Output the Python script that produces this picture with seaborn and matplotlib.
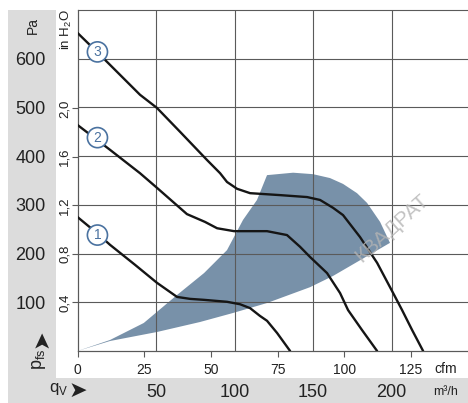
import matplotlib
matplotlib.use("Agg")
import matplotlib.pyplot as plt
import pandas as pd
import seaborn as sns
from matplotlib import font_manager
from matplotlib.patches import Rectangle

# Fan curves: flow in m³/h, static pressure p_fs in Pa.
CURVE1_Q = [0, 12.4, 20.7, 36.6, 50.6, 63.4, 71.7, 80.6, 95.2, 103.5, 109.9, 116.2, 120.7, 127.1, 135.4]
CURVE1_P = [275, 242, 218, 177, 140, 111, 107, 105, 101, 96, 88, 72, 62, 37, 0]

CURVE2_Q = [0, 20.7, 39.8, 50.6, 69.7, 81.2, 88.9, 99.7, 120.7, 133.4, 141.7, 148.1, 158.9, 167.2, 172.3, 181.2, 190.8]
CURVE2_P = [464, 413, 365, 335, 281, 265, 252, 246, 246, 238, 214, 193, 160, 119, 84, 43, 0]

CURVE3_Q = [0, 14.3, 39.8, 50.6, 65.3, 82.5, 90.8, 95.2, 101.6, 109.9, 129.0, 146.2, 154.5,
            162.7, 169.1, 179.9, 190.8, 201.0, 206.7, 213.1, 220.1]
CURVE3_P = [653, 608, 526, 499, 450, 392, 365, 347, 333, 324, 320, 316, 310,
            294, 279, 234, 181, 119, 84, 43, 0]

# Shaded operating range (outline, clockwise from the origin).
AREA_Q = [0, 20.7, 42.2, 63.4, 80.6, 95.2, 105.4, 114.3, 120.7, 137.3, 150.0, 160.8, 169.1,
          178.0, 184.4, 192.7, 199.0, 162.7, 148.1, 120.7, 99.0, 78.0, 50.6, 20.7]
AREA_P = [0, 22.6, 57.5, 115, 160, 207, 269, 310, 361, 366, 363, 355, 343,
          324, 304, 265, 222, 154, 131, 98.5, 78, 59.5, 39, 20.5]

CURVE_NAMES = ["1", "2", "3"]
CURVE_TAG_Q = 12.7
CURVE_TAG_P = [238, 438, 614]

PA_TICKS = [100, 200, 300, 400, 500, 600]
M3H_TICKS = [50, 100, 150, 200]
CFM_TICKS = [0, 25, 50, 75, 100, 125]
INH2O_TICKS = [0.4, 0.8, 1.2, 1.6, 2.0]

W, H = 468, 403
GRAY = "#dcdcdc"
GRID = "#5a5a5a"
TAG_BLUE = "#4a72a0"
AREA_COLOR = "#7891a9"
TEXT = "#222222"

sns.set_theme(style="white")
names = {f.name for f in font_manager.fontManager.ttflist}
base = "Liberation Sans Narrow" if "Liberation Sans Narrow" in names else "Liberation Sans"
plt.rcParams["font.family"] = [base, "DejaVu Sans"]
plt.rcParams["mathtext.fontset"] = "custom"
plt.rcParams["mathtext.rm"] = base


def px(x, y):
    return x / W, 1 - y / H


def m3h_to_cfm(q):
    return q / 1.69901


def cfm_to_m3h(q):
    return q * 1.69901


def pa_to_inh2o(p):
    return p / 249.089


def inh2o_to_pa(p):
    return p * 249.089


fig = plt.figure(figsize=(W / 100, H / 100), dpi=100)
fig.add_artist(Rectangle(px(8, 403), 48 / W, 393 / H, transform=fig.transFigure,
                         color=GRAY, zorder=-1, lw=0))
fig.add_artist(Rectangle(px(8, 403), 460 / W, 25 / H, transform=fig.transFigure,
                         color=GRAY, zorder=-1, lw=0))

ax = fig.add_axes([77.5 / W, 52 / H, 391 / W, 341 / H])
ax.set_xlim(0, 249)
ax.set_ylim(0, 700)

ax.fill(AREA_Q, AREA_P, color=AREA_COLOR, lw=0, zorder=1)

df = pd.concat([
    pd.DataFrame({"q": q, "p": p, "curve": name})
    for name, q, p in zip(CURVE_NAMES, [CURVE1_Q, CURVE2_Q, CURVE3_Q], [CURVE1_P, CURVE2_P, CURVE3_P])
])
sns.lineplot(data=df, x="q", y="p", hue="curve", palette=["#151515"] * 3, sort=False,
             estimator=None, legend=False, lw=1.7, ax=ax, zorder=3)

for name, p in zip(CURVE_NAMES, CURVE_TAG_P):
    ax.text(CURVE_TAG_Q, p, name, ha="center", va="center", fontsize=10, color=TAG_BLUE, zorder=5,
            bbox=dict(boxstyle="circle,pad=0.22", fc="white", ec=TAG_BLUE, lw=1.2))

ax.set_axisbelow("line")
ax.grid(True, color=GRID, lw=0.8)
for side in ("left", "top", "bottom"):
    ax.spines[side].set_color(GRID)
    ax.spines[side].set_linewidth(0.8)
ax.spines["right"].set_visible(False)

ax.set_xticks(M3H_TICKS)
ax.set_yticks(PA_TICKS)
ax.tick_params(axis="x", length=0, pad=24, labelsize=13, labelcolor=TEXT)
ax.tick_params(axis="y", length=0, pad=23, labelsize=13, labelcolor=TEXT)
ax.set_xlabel("")
ax.set_ylabel("")

sec_y = ax.secondary_yaxis("left", functions=(pa_to_inh2o, inh2o_to_pa))
sec_y.set_yticks(INH2O_TICKS, labels=[f"{v:.1f}".replace(".", ",") for v in INH2O_TICKS])
sec_y.tick_params(axis="y", length=4, width=0.8, color=GRID, pad=1, labelsize=9.5,
                  labelrotation=90, labelcolor=TEXT)
for lbl in sec_y.get_yticklabels():
    lbl.set_va("center")
sec_y.spines["left"].set_color(GRID)
sec_y.spines["left"].set_linewidth(0.8)

sec_x = ax.secondary_xaxis("bottom", functions=(m3h_to_cfm, cfm_to_m3h))
sec_x.set_xticks(CFM_TICKS)
sec_x.tick_params(axis="x", length=4, width=0.8, color=GRID, pad=5, labelsize=10, labelcolor=TEXT)
sec_x.spines["bottom"].set_color(GRID)
sec_x.spines["bottom"].set_linewidth(0.8)

fig.text(*px(33, 26), "Pa", rotation=90, ha="center", va="center", fontsize=10, color=TEXT)
fig.text(*px(66, 30), "in H$_\\mathrm{2}$O", rotation=90, ha="center", va="center", fontsize=9.5, color=TEXT)
fig.text(*px(39, 359), "p$_\\mathrm{fs}$", rotation=90, ha="center", va="center", fontsize=13, color=TEXT)
fig.text(*px(41, 339), "➤", rotation=90, ha="center", va="center", fontsize=16, color=TEXT,
         family="DejaVu Sans")
fig.text(*px(59, 389), "q$_\\mathrm{V}$", ha="center", va="center", fontsize=12, color=TEXT)
fig.text(*px(78, 391), "➤", ha="center", va="center", fontsize=16, color=TEXT,
         family="DejaVu Sans")
fig.text(*px(446, 369), "cfm", ha="center", va="center", fontsize=10, color=TEXT)
fig.text(*px(446, 392), "m³/h", ha="center", va="center", fontsize=9, color=TEXT)

# faint dealer watermark across the right half
fig.text(*px(392, 228), "КВАДРАТ", rotation=42, ha="center", va="center", fontsize=15,
         color="#b4b4b4", alpha=0.8, zorder=6)

fig.savefig("out.png", dpi=100)
